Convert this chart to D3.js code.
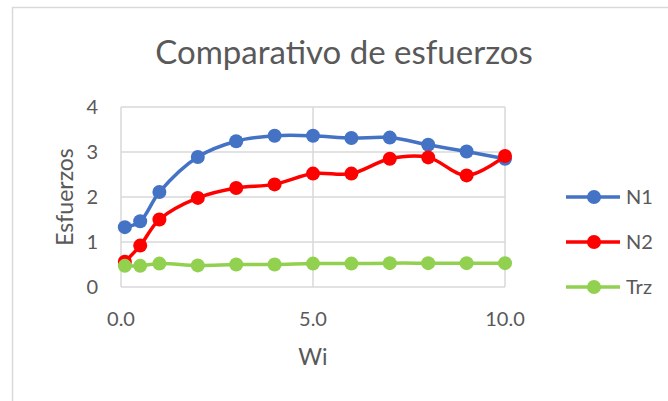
<!DOCTYPE html>
<html lang="es">
<head>
<meta charset="UTF-8" />
<title>Comparativo de esfuerzos</title>
<style>
  body { margin: 0; background: #fff; }
  svg { display: block; font-family: Lato, "Open Sans", sans-serif; }
</style>
<script src="https://cdn.jsdelivr.net/npm/d3@7"></script>
</head>
<body>
<svg id="chart" width="668" height="401"></svg>
<script>
// values
const wi = [0.1, 0.5, 1, 2, 3, 4, 5, 6, 7, 8, 9, 10];
const n1 = [1.33, 1.46, 2.11, 2.89, 3.24, 3.36, 3.36, 3.31, 3.32, 3.16, 3.01, 2.85];
const n2 = [0.56, 0.92, 1.50, 1.98, 2.20, 2.28, 2.52, 2.52, 2.85, 2.88, 2.48, 2.91];
const trz = [0.47, 0.47, 0.52, 0.48, 0.50, 0.50, 0.52, 0.52, 0.53, 0.53, 0.53, 0.53];
const xTicks = [0, 5, 10];
const yTicks = [0, 1, 2, 3, 4];

const series = [
  {name: "N1", values: n1, color: "#4472C4"},
  {name: "N2", values: n2, color: "#FF0000"},
  {name: "Trz", values: trz, color: "#92D050"}
];

const svg = d3.select("#chart");
const textColor = "#595959";
const gridColor = "#d9d9d9";

// chart frame (runs off the right/bottom edges like the source)
svg.append("rect")
  .attr("x", 12.5).attr("y", 7.5)
  .attr("width", 700).attr("height", 420)
  .attr("fill", "#fff").attr("stroke", gridColor).attr("stroke-width", 1.5);

const x = d3.scaleLinear().domain([0, 10]).range([121, 505]);
const y = d3.scaleLinear().domain([0, 4]).range([287, 107]);

// gridlines
svg.append("g").selectAll("line.h")
  .data(yTicks).join("line")
  .attr("x1", x(0)).attr("x2", x(10))
  .attr("y1", d => y(d)).attr("y2", d => y(d))
  .attr("stroke", gridColor).attr("stroke-width", 1.5);
svg.append("g").selectAll("line.v")
  .data(xTicks).join("line")
  .attr("x1", d => x(d)).attr("x2", d => x(d))
  .attr("y1", y(0)).attr("y2", y(4))
  .attr("stroke", gridColor).attr("stroke-width", 1.5);

// tick labels
svg.append("g").selectAll("text")
  .data(yTicks).join("text")
  .attr("x", 98).attr("y", d => y(d))
  .attr("dy", "0.35em")
  .attr("text-anchor", "end")
  .attr("fill", textColor).attr("font-size", 20)
  .text(d => d);
svg.append("g").selectAll("text")
  .data(xTicks).join("text")
  .attr("x", d => x(d)).attr("y", 326)
  .attr("text-anchor", "middle")
  .attr("fill", textColor).attr("font-size", 20)
  .text(d => d.toFixed(1));

// titles
svg.append("text")
  .attr("x", 344).attr("y", 64)
  .attr("text-anchor", "middle")
  .attr("fill", textColor).attr("font-size", 33)
  .text("Comparativo de esfuerzos");
svg.append("text")
  .attr("x", 313).attr("y", 365)
  .attr("text-anchor", "middle")
  .attr("fill", textColor).attr("font-size", 23)
  .text("Wi");
svg.append("text")
  .attr("transform", "translate(65,197) rotate(-90)")
  .attr("dy", "0.35em")
  .attr("text-anchor", "middle")
  .attr("fill", textColor).attr("font-size", 23)
  .text("Esfuerzos");

// series
const line = d3.line()
  .x((d, i) => x(wi[i]))
  .y(d => y(d))
  .curve(d3.curveCatmullRom.alpha(0.5));

series.forEach(s => {
  svg.append("path")
    .datum(s.values)
    .attr("d", line)
    .attr("fill", "none")
    .attr("stroke", s.color)
    .attr("stroke-width", 3.5)
    .attr("stroke-linejoin", "round");
  svg.append("g").selectAll("circle")
    .data(s.values).join("circle")
    .attr("cx", (d, i) => x(wi[i]))
    .attr("cy", d => y(d))
    .attr("r", 7)
    .attr("fill", s.color);
});

// legend
const legend = svg.append("g").selectAll("g")
  .data(series).join("g")
  .attr("transform", (d, i) => `translate(566,${197 + i * 45})`);
legend.append("line")
  .attr("x1", 0).attr("x2", 54)
  .attr("stroke", d => d.color).attr("stroke-width", 3.5);
legend.append("circle")
  .attr("cx", 28).attr("r", 7)
  .attr("fill", d => d.color);
legend.append("text")
  .attr("x", 60).attr("dy", "0.35em")
  .attr("fill", textColor).attr("font-size", 20)
  .text(d => d.name);
</script>
</body>
</html>
